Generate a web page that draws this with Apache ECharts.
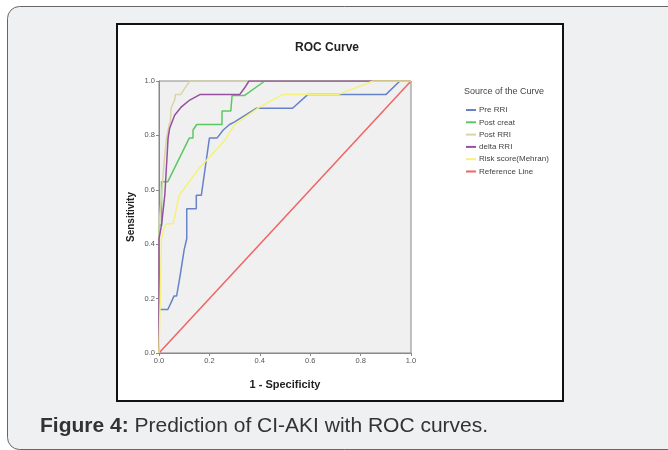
<!DOCTYPE html>
<html><head><meta charset="utf-8">
<script src="https://cdn.jsdelivr.net/npm/echarts@6/dist/echarts.min.js"></script>
<style>html,body{margin:0;padding:0;background:#fff}#c{width:668px;height:450px}</style>
</head><body><div id="c"></div>
<script>
var seriesNames = ['Pre RRI','Post creat','Post RRI','delta RRI','Risk score(Mehran)','Reference Line'];
var seriesColors = ['#6682c8','#5cc862','#d9d4a8','#9550a0','#f4f27a','#ef6464'];
var preRRI = [[0,0],[0,0.16],[0.035,0.16],[0.05,0.19],[0.06,0.21],[0.07,0.21],[0.083,0.28],[0.1,0.38],[0.11,0.42],[0.11,0.53],[0.148,0.53],[0.148,0.58],[0.168,0.58],[0.2,0.79],[0.23,0.79],[0.255,0.82],[0.28,0.84],[0.3,0.85],[0.387,0.9],[0.53,0.9],[0.59,0.95],[0.9,0.95],[0.956,1],[1,1]];
var postCreat = [[0,0],[0,0.47],[0.01,0.47],[0.01,0.63],[0.035,0.63],[0.12,0.79],[0.135,0.79],[0.135,0.82],[0.15,0.84],[0.25,0.84],[0.25,0.89],[0.285,0.89],[0.29,0.947],[0.34,0.947],[0.42,1],[1,1]];
var postRRI = [[0,0],[0,0.47],[0.01,0.58],[0.02,0.7],[0.03,0.79],[0.04,0.84],[0.045,0.85],[0.048,0.9],[0.062,0.93],[0.065,0.95],[0.086,0.95],[0.1,0.97],[0.122,1],[1,1]];
var deltaRRI = [[0,0],[0,0.42],[0.01,0.47],[0.023,0.58],[0.033,0.74],[0.036,0.79],[0.042,0.825],[0.062,0.874],[0.089,0.905],[0.122,0.93],[0.162,0.95],[0.32,0.95],[0.34,0.975],[0.357,1],[1,1]];
var riskScore = [[0,0],[0.005,0.2],[0.01,0.42],[0.02,0.46],[0.03,0.475],[0.056,0.475],[0.08,0.58],[0.16,0.68],[0.26,0.78],[0.3,0.84],[0.4,0.905],[0.49,0.95],[0.71,0.95],[0.85,1],[1,1]];
var referenceLine = [[0,0],[1,1]];
var allData = [preRRI, postCreat, postRRI, deltaRRI, riskScore, referenceLine];
var axisTicks = [0,0.2,0.4,0.6,0.8,1.0];

var chart = echarts.init(document.getElementById('c'), null, {renderer:'canvas'});
var ff = 'Liberation Sans, Arial, sans-serif';
var series = seriesNames.map(function(n,i){
  return {name:n,type:'line',data:allData[i],showSymbol:false,symbol:'none',
    lineStyle:{color:seriesColors[i],width:1.5},itemStyle:{color:seriesColors[i]},
    z: (i===5?1:2), animation:false};
});
chart.setOption({
  animation:false,
  backgroundColor:'transparent',
  graphic:[
    {type:'rect',shape:{x:7.5,y:6.5,width:700,height:443,r:12},style:{fill:'#eff0f2',stroke:'#666',lineWidth:1},z:-10},
    {type:'rect',shape:{x:117,y:24,width:446,height:377},style:{fill:'#fff',stroke:'#111',lineWidth:2},z:-9},
    {type:'text',left:464,top:87,style:{text:'Source of the Curve',font:'9px '+ff,fill:'#444'}},
    {type:'text',left:40,top:416,style:{rich:{b:{font:'bold 21px '+ff,fill:'#333'},n:{font:'21px '+ff,fill:'#333'}},text:'{b|Figure 4:}{n| Prediction of CI-AKI with ROC curves.}'}}
  ],
  title:{text:'ROC Curve',left:322,top:37,textAlign:'center',textStyle:{fontFamily:ff,fontSize:12,fontWeight:'bold',color:'#222'}},
  legend:{data:seriesNames,orient:'vertical',left:461,top:100,itemWidth:10,itemHeight:2,itemGap:2.3,icon:'rect',
    textStyle:{fontFamily:ff,fontSize:8,color:'#444',lineHeight:10,padding:[0,0,0,-2]},selectedMode:false},
  grid:{left:159,top:81,width:252,height:272,show:true,backgroundColor:'#f0f0f0',borderColor:'#888',borderWidth:1},
  xAxis:{type:'value',min:0,max:1,interval:0.2,name:'1 - Specificity',nameLocation:'middle',nameGap:26,
    nameTextStyle:{fontFamily:ff,fontSize:11,fontWeight:'bold',color:'#222'},
    axisLine:{lineStyle:{color:'#888'}},axisTick:{show:true,length:3,lineStyle:{color:'#888'}},
    splitLine:{show:false},axisLabel:{fontFamily:ff,fontSize:7.5,color:'#555',margin:4,formatter:function(v){return v.toFixed(1);}}},
  yAxis:{type:'value',min:0,max:1,interval:0.2,name:'Sensitivity',nameLocation:'middle',nameGap:23,
    nameTextStyle:{fontFamily:ff,fontSize:10,fontWeight:'bold',color:'#222'},
    axisLine:{show:true,lineStyle:{color:'#888'}},axisTick:{show:true,length:3,lineStyle:{color:'#888'}},
    splitLine:{show:false},axisLabel:{fontFamily:ff,fontSize:7.5,color:'#555',margin:4,formatter:function(v){return v.toFixed(1);}}},
  series:series
});
</script></body></html>
